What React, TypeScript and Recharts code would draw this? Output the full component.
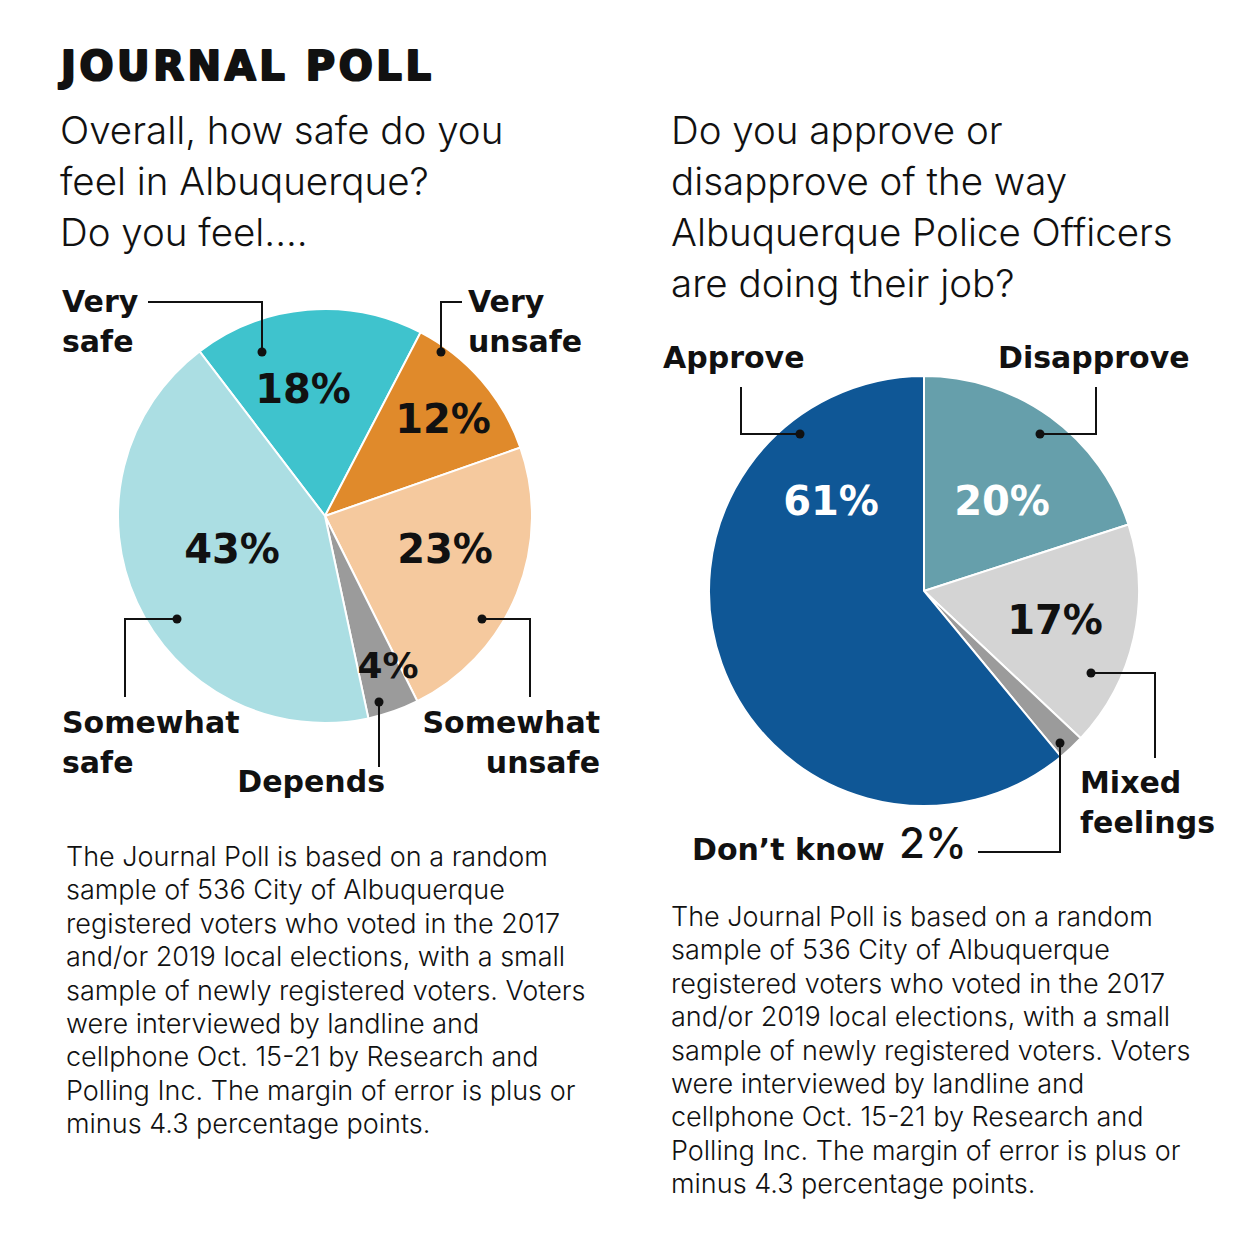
import { PieChart, Pie, Cell } from 'recharts';

// Overall, how safe do you feel in Albuquerque?
const safetyLabels = ['Very safe', 'Very unsafe', 'Somewhat unsafe', 'Depends', 'Somewhat safe'];
const safetyValues = [18, 12, 23, 4, 43];
const safetyColors = ['#3fc3cd', '#e08a2b', '#f5c99e', '#9b9b9b', '#abdee3'];

// Approve or disapprove of Albuquerque Police Officers
const policeLabels = ['Disapprove', 'Mixed feelings', 'Don’t know', 'Approve'];
const policeValues = [20, 17, 2, 61];
const policeColors = ['#669fab', '#d4d4d4', '#9b9b9b', '#0f5796'];

const leftQuestion = ['Overall, how safe do you', 'feel in Albuquerque?', 'Do you feel....'];
const rightQuestion = [
    'Do you approve or',
    'disapprove of the way',
    'Albuquerque Police Officers',
    'are doing their job?',
];
const footnote = [
    'The Journal Poll is based on a random',
    'sample of 536 City of Albuquerque',
    'registered voters who voted in the 2017',
    'and/or 2019 local elections, with a small',
    'sample of newly registered voters. Voters',
    'were interviewed by landline and',
    'cellphone Oct. 15-21 by Research and',
    'Polling Inc. The margin of error is plus or',
    'minus 4.3 percentage points.',
];

const safetyData = safetyLabels.map((name, i) => ({ name, value: safetyValues[i] }));
const policeData = policeLabels.map((name, i) => ({ name, value: policeValues[i] }));

const BOLD = '"DejaVu Sans", sans-serif';
const LIGHT = 'Inter, "Liberation Sans", sans-serif';
const INK = '#111';

// callout placement, offsets from the pie centre
type Note = {
    pct?: [number, number];
    pctSize?: number;
    pctColor?: string;
    pctWeight?: string | number;
    pctAnchor?: 'start' | 'middle' | 'end';
    path: [number, number][];
    wrap: boolean;
    lx: number;
    ly: number;
    anchor: 'start' | 'end';
};

const safetyNotes: Note[] = [
    { pct: [-22, -113], path: [[-63, -164], [-63, -214], [-177, -214]], wrap: true, lx: -263, ly: -204, anchor: 'start' },
    { pct: [118, -83], path: [[116, -164], [116, -214], [137, -214]], wrap: true, lx: 143, ly: -204, anchor: 'start' },
    { pct: [120, 47], path: [[157, 103], [205, 103], [205, 181]], wrap: true, lx: 275, ly: 217, anchor: 'end' },
    { pct: [63, 162], pctSize: 36, path: [[54, 186], [54, 251]], wrap: false, lx: 60, ly: 276, anchor: 'end' },
    { pct: [-93, 47], path: [[-148, 103], [-200, 103], [-200, 181]], wrap: true, lx: -263, ly: 217, anchor: 'start' },
];

const policeNotes: Note[] = [
    { pct: [78, -76], pctColor: '#fff', path: [[116, -157], [172, -157], [172, -204]], wrap: false, lx: 74, ly: -223, anchor: 'start' },
    { pct: [131, 43], path: [[167, 82], [231, 82], [231, 167]], wrap: true, lx: 156, ly: 202, anchor: 'start' },
    {
        pct: [-25, 267], pctSize: 42, pctWeight: 500, pctAnchor: 'start',
        path: [[136, 152], [136, 261], [54, 261]], wrap: false, lx: -232, ly: 269, anchor: 'start',
    },
    { pct: [-93, -76], pctColor: '#fff', path: [[-124, -157], [-183, -157], [-183, -204]], wrap: false, lx: -261, ly: -223, anchor: 'start' },
];

const makeLabel = (notes: Note[]) => (props: any) => {
    const { cx, cy, index, value, name } = props;
    const n = notes[index];
    if (!n) return null;
    const pts = n.path.map(([x, y]) => `${cx + x},${cy + y}`).join(' ');
    const [dx, dy] = n.path[0];
    const words = n.wrap ? String(name).split(' ') : [String(name)];
    return (
        <g>
            <polyline points={pts} fill="none" stroke={INK} strokeWidth={2} />
            <circle cx={cx + dx} cy={cy + dy} r={4.5} fill={INK} />
            {n.pct && (
                <text
                    x={cx + n.pct[0]}
                    y={cy + n.pct[1]}
                    textAnchor={n.pctAnchor || 'middle'}
                    fontFamily={n.pctWeight ? LIGHT : BOLD}
                    fontWeight={n.pctWeight ?? 'bold'}
                    fontSize={n.pctSize || 40}
                    fill={n.pctColor || INK}
                >
                    {value}%
                </text>
            )}
            <text
                x={cx + n.lx}
                y={cy + n.ly}
                textAnchor={n.anchor}
                fontFamily={BOLD}
                fontWeight="bold"
                fontSize={30}
                fill={INK}
            >
                {words.map((w, i) => (
                    <tspan key={i} x={cx + n.lx} dy={i === 0 ? 0 : 40}>
                        {w}
                    </tspan>
                ))}
            </text>
        </g>
    );
};

function Lines({ x, y, lines, step, size }: { x: number; y: number; lines: string[]; step: number; size: number }) {
    return (
        <text x={x} y={y} fontFamily={LIGHT} fontWeight={300} fontSize={size} fill={INK}>
            {lines.map((l, i) => (
                <tspan key={i} x={x} dy={i === 0 ? 0 : step}>
                    {l}
                </tspan>
            ))}
        </text>
    );
}

export default function App() {
    return (
        <div style={{ position: 'absolute', left: 0, top: 0, width: 1258, height: 1237, background: '#fff' }}>
            <PieChart width={1258} height={1237} margin={{ top: 0, right: 0, bottom: 0, left: 0 }}>
                <Pie
                    data={safetyData}
                    dataKey="value"
                    nameKey="name"
                    cx={325}
                    cy={516}
                    outerRadius={207}
                    startAngle={127.3}
                    endAngle={-232.7}
                    stroke="#fff"
                    strokeWidth={2}
                    label={makeLabel(safetyNotes)}
                    labelLine={false}
                    isAnimationActive={false}
                >
                    {safetyData.map((d, i) => (
                        <Cell key={d.name} fill={safetyColors[i]} />
                    ))}
                </Pie>
                <Pie
                    data={policeData}
                    dataKey="value"
                    nameKey="name"
                    cx={924}
                    cy={591}
                    outerRadius={215}
                    startAngle={90}
                    endAngle={-270}
                    stroke="#fff"
                    strokeWidth={2}
                    label={makeLabel(policeNotes)}
                    labelLine={false}
                    isAnimationActive={false}
                >
                    {policeData.map((d, i) => (
                        <Cell key={d.name} fill={policeColors[i]} />
                    ))}
                </Pie>
            </PieChart>
            <svg
                width={1258}
                height={1237}
                style={{ position: 'absolute', left: 0, top: 0, pointerEvents: 'none' }}
            >
                <text
                    x={61}
                    y={80}
                    fontFamily={BOLD}
                    fontWeight="bold"
                    fontSize={40}
                    letterSpacing={3.6}
                    fill={INK}
                    stroke={INK}
                    strokeWidth={2.2}
                    strokeLinejoin="round"
                >
                    JOURNAL POLL
                </text>
                <Lines x={60} y={144} lines={leftQuestion} step={51} size={38.5} />
                <Lines x={671} y={144} lines={rightQuestion} step={51} size={38.5} />
                <Lines x={66} y={866} lines={footnote} step={33.4} size={27} />
                <Lines x={671} y={926} lines={footnote} step={33.4} size={27} />
            </svg>
        </div>
    );
}
